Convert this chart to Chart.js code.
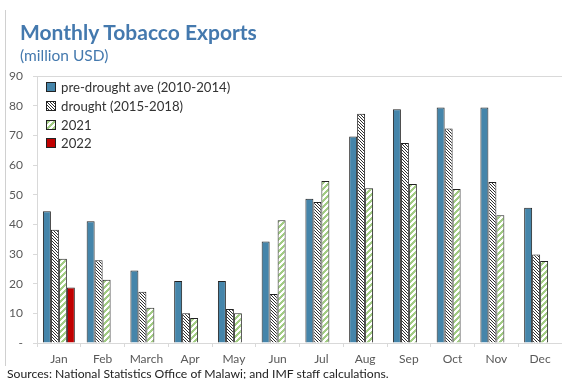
<!DOCTYPE html>
<html>
<head>
<meta charset="utf-8">
<script src="https://cdn.jsdelivr.net/npm/chart.js@4"></script>
<style>
  html, body { margin:0; padding:0; background:#fff; }
  #wrap { position:relative; width:562px; height:379px; overflow:hidden; font-family: Lato, "Open Sans", sans-serif; }
  #c { position:absolute; left:0; top:0; }
  .frame { position:absolute; left:5px; top:10px; width:1px; height:356px; background:#d0d0d0; }
  .title { position:absolute; left:20px; top:19px; font-weight:bold; font-size:21px; color:#4479AE; white-space:nowrap; }
  .sub { position:absolute; left:20px; top:46px; font-size:15.5px; color:#4479AE; white-space:nowrap; }
  .src { position:absolute; left:7px; top:366px; font-size:12.2px; color:#222; white-space:nowrap; }
  .leg { position:absolute; left:46px; top:78px; font-size:13.2px; color:#333; }
  .li { height:18.7px; display:flex; align-items:center; white-space:nowrap; }
  .li canvas { width:8px; height:8px; border:1px solid #222; margin-right:5px; box-sizing:content-box; }
</style>
</head>
<body>
<div id="wrap">
  <canvas id="c" width="562" height="379"></canvas>
  <div class="frame"></div>
  <div class="title">Monthly Tobacco Exports</div>
  <div class="sub">(million USD)</div>
  <div class="leg" id="leg"></div>
  <div class="src">Sources: National Statistics Office of Malawi; and IMF staff calculations.</div>
</div>
<script>
const months = ["Jan","Feb","March","Apr","May","Jun","Jul","Aug","Sep","Oct","Nov","Dec"];
const seriesNames = ["pre-drought ave (2010-2014)","drought (2015-2018)","2021","2022"];
const preDrought = [44.4, 41.0, 24.4, 20.9, 20.9, 34.2, 48.6, 69.6, 78.8, 79.4, 79.4, 45.6];
const drought    = [38.2, 27.9, 17.3, 10.0, 11.5, 16.5, 47.5, 77.3, 67.4, 72.3, 54.3, 29.8];
const y2021      = [28.4, 21.3, 11.9, 8.4, 10.0, 41.4, 54.6, 52.2, 53.6, 51.9, 43.1, 27.6];
const y2022      = [18.7, null, null, null, null, null, null, null, null, null, null, null];
const yTicks     = [0, 10, 20, 30, 40, 50, 60, 70, 80, 90];

function makePattern(size, fn, dark) {
  const cv = document.createElement('canvas');
  cv.width = size; cv.height = size;
  const g = cv.getContext('2d');
  g.fillStyle = '#fff'; g.fillRect(0,0,size,size);
  g.fillStyle = dark;
  for (let x=0;x<size;x++) for (let y=0;y<size;y++) if (fn(x,y)) g.fillRect(x,y,1,1);
  return cv;
}
const droughtTile = makePattern(3, (x,y)=>(((x-y)%3)+3)%3 === 0, '#2e2e2e');
const greenTile = makePattern(6, (x,y)=>((x+y)%6) < 3, '#A2CC84');
const ctx = document.getElementById('c').getContext('2d');
const droughtPat = ctx.createPattern(droughtTile, 'repeat');
const greenPat = ctx.createPattern(greenTile, 'repeat');

const fills = ['#4585AA', droughtPat, greenPat, '#C00000'];
const tiles = [null, droughtTile, greenTile, null];

// legend
const leg = document.getElementById('leg');
seriesNames.forEach((n,i)=>{
  const d = document.createElement('div'); d.className='li';
  const sw = document.createElement('canvas'); sw.width=8; sw.height=8;
  const sg = sw.getContext('2d');
  if (tiles[i]) { sg.fillStyle = sg.createPattern(tiles[i],'repeat'); } else { sg.fillStyle = fills[i]; }
  sg.fillRect(0,0,8,8);
  d.appendChild(sw);
  const t = document.createElement('span'); t.textContent = n; d.appendChild(t);
  leg.appendChild(d);
});

const dataSets = [preDrought, drought, y2021, y2022].map((arr,i)=>({
  label: seriesNames[i],
  data: arr,
  backgroundColor: fills[i],
  borderColor: '#222',
  borderWidth: 1,
  categoryPercentage: 0.73,
  barPercentage: 1.0
}));

new Chart(ctx, {
  type: 'bar',
  data: { labels: months, datasets: dataSets },
  options: {
    responsive: false,
    animation: false,
    layout: { padding: { top: 76, left: 0, right: 0, bottom: 0 } },
    plugins: { legend: { display: false }, tooltip: { enabled: false } },
    scales: {
      x: {
        afterFit: s => { s.height = 36; },
        grid: { drawOnChartArea: false, tickLength: 4, tickColor: '#d9d9d9', offset: true },
        border: { color: '#d9d9d9', width: 1 },
        ticks: { color: '#595959', font: { family: 'Lato', size: 12 }, padding: 5, maxRotation: 0, autoSkip: false }
      },
      y: {
        min: 0, max: 90,
        afterFit: s => { s.width = 37; },
        afterBuildTicks: s => { s.ticks = yTicks.map(v=>({value:v})); },
        grid: { color: c => (c.tick && c.tick.value === 90) ? '#d9d9d9' : 'rgba(0,0,0,0)', tickLength: 4, tickColor: '#d9d9d9' },
        border: { color: '#d9d9d9', width: 1 },
        ticks: { color: '#595959', font: { family: 'Lato', size: 12 }, padding: 10, callback: v => v === 0 ? '-' : String(v) }
      }
    }
  }
});
</script>
</body>
</html>
